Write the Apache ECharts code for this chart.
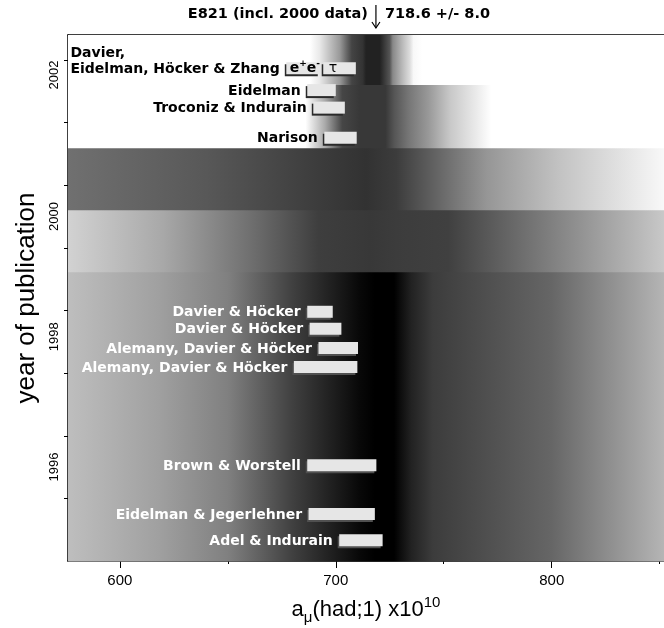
<!DOCTYPE html>
<html>
<head>
<meta charset="utf-8">
<script src="https://cdn.jsdelivr.net/npm/echarts@6/dist/echarts.min.js"></script>
<style>
  html, body { margin: 0; padding: 0; background: #fff; }
  #chart { width: 664px; height: 628px; }
</style>
</head>
<body>
<div id="chart"></div>
<script>
// axis ranges
const xMin = 576, xMax = 852
const yMin = 1994.5, yMax = 2002.9
const xMajor = [600, 700, 800]
const xMinor = [650, 750, 850]
const yTicks = [1995.5, 1996.5, 1997.5, 1998.5, 1999.5, 2000.5, 2001.5, 2002.5]
// year labels sit a little off the year centres in the original
const yLabels = [1996, 1998.08, 2000, 2002.26]

// E821 measurement
const e821 = [718.6, 8.0]

// predictions
const names = ['Eidelman, Höcker & Zhang', '', 'Eidelman', 'Troconiz & Indurain', 'Narison',
  'Davier & Höcker', 'Davier & Höcker', 'Alemany, Davier & Höcker', 'Alemany, Davier & Höcker',
  'Brown & Worstell', 'Eidelman & Jegerlehner', 'Adel & Indurain']
const tags = ['ee', 'tau', '', '', '', '', '', '', '', '', '', '']
const years = [2002.37, 2002.37, 2002.02, 2001.74, 2001.26, 1998.48, 1998.21, 1997.9, 1997.6, 1996.03, 1995.25, 1994.83]
const lows = [676.4, 693.5, 686.1, 688.9, 694.0, 686.1, 687.2, 691.3, 679.9, 686.1, 686.7, 700.9]
const highs = [692.6, 709.3, 700.0, 704.2, 709.7, 698.6, 702.6, 710.3, 710.0, 718.8, 718.1, 721.7]

// experimental average bands by epoch
const bandFrom = [1994.5, 1999.12, 2000.11, 2001.1, 2002.11]
const bandTo = [1999.12, 2000.11, 2001.1, 2002.11, 2002.9]
// grey level profile of each band: [a_mu, grey]
const shades = [
  [[576, 190], [618, 160], [650, 128], [680, 64], [711, 8], [718, 0], [727, 0], [735, 34], [745, 60], [800, 102], [852, 181]],
  [[576, 210], [620, 168], [660, 112], [692, 62], [716, 56], [728, 60], [752, 64], [800, 128], [852, 200]],
  [[576, 112], [640, 88], [692, 60], [714, 50], [728, 60], [770, 150], [804, 195], [852, 248]],
  [[576, 255], [686, 255], [695, 170], [703, 70], [711, 56], [723, 56], [727, 85], [734, 119], [743, 153], [753, 200], [767, 240], [772, 255], [852, 255]],
  [[576, 255], [688, 255], [692.6, 232], [697.2, 192], [701.9, 153], [705.1, 102], [707.4, 68], [712.5, 51], [714, 34],
   [720.4, 34], [725, 85], [726.4, 136], [731, 187], [734.3, 221], [736, 248], [740, 255], [852, 255]]
]

const labelFont = 'bold 14px "DejaVu Sans"'
const measureCtx = document.createElement('canvas').getContext('2d')
function textWidth(t, font) {
  measureCtx.font = font
  return measureCtx.measureText(t).width
}

function grey(g) {
  return 'rgb(' + g + ',' + g + ',' + g + ')'
}

function renderBand(params, api) {
  const i = api.value(2)
  const p0 = api.coord([xMin, api.value(1)])
  const p1 = api.coord([xMax, api.value(0)])
  const stops = shades[i].map(s => ({
    offset: Math.min(1, Math.max(0, (s[0] - xMin) / (xMax - xMin))),
    color: grey(s[1])
  }))
  return {
    type: 'rect',
    shape: { x: p0[0], y: p0[1], width: p1[0] - p0[0], height: p1[1] - p0[1] + 0.5 },
    style: { fill: new echarts.graphic.LinearGradient(0, 0, 1, 0, stops) }
  }
}

function renderBar(params, api) {
  const i = params.dataIndex
  const y = api.value(0)
  const a = api.coord([api.value(1), y])
  const b = api.coord([api.value(2), y])
  const h = 12
  const dark = y > 2000
  const kids = [
    { type: 'rect', shape: { x: a[0], y: a[1] - h / 2 + 2, width: b[0] - a[0] - 2, height: h }, style: { fill: dark ? '#2a2a2a' : '#505050' } },
    { type: 'rect', shape: { x: a[0] + 1.5, y: a[1] - h / 2, width: b[0] - a[0] - 1.5, height: h }, style: { fill: '#e6e6e6' } }
  ]
  if (names[i]) {
    kids.push({
      type: 'text', x: a[0] - 5, y: a[1] + 1,
      style: { text: names[i], font: labelFont, fill: dark ? '#000' : '#fff', align: 'right', verticalAlign: 'middle' }
    })
  }
  if (i === 0) {
    kids.push({
      type: 'text', x: a[0] - 5 - textWidth(names[i], labelFont), y: a[1] - 15,
      style: { text: 'Davier,', font: labelFont, fill: '#000', align: 'left', verticalAlign: 'middle' }
    })
  }
  if (tags[i] === 'ee') {
    kids.push({
      type: 'text', x: a[0] + 5, y: a[1],
      style: {
        text: '{b|e}{s|+}{b|e}{s|-}', align: 'left', verticalAlign: 'middle',
        rich: {
          b: { font: 'bold 14px "DejaVu Sans"', fill: '#000', lineHeight: 18, verticalAlign: 'middle' },
          s: { font: 'bold 9px "DejaVu Sans"', fill: '#000', lineHeight: 18, verticalAlign: 'top' }
        }
      }
    })
  }
  if (tags[i] === 'tau') {
    kids.push({
      type: 'text', x: a[0] + 7, y: a[1],
      style: { text: 'τ', font: '14px "DejaVu Sans"', fill: '#000', align: 'left', verticalAlign: 'middle' }
    })
  }
  return { type: 'group', children: kids }
}

function renderE821(params, api) {
  const v = api.value(0)
  const p = api.coord([v, yMax])
  const x = p[0]
  const font = 'bold 14.5px "DejaVu Sans"'
  return {
    type: 'group',
    children: [
      { type: 'line', shape: { x1: x, y1: p[1] - 30, x2: x, y2: p[1] - 7 }, style: { stroke: '#000', lineWidth: 1.2 } },
      { type: 'polyline', shape: { points: [[x - 4, p[1] - 13], [x, p[1] - 7], [x + 4, p[1] - 13]] }, style: { stroke: '#000', fill: null, lineWidth: 1.2 } },
      { type: 'text', x: x - 8, y: p[1] - 21, style: { text: 'E821 (incl. 2000 data)', font: font, fill: '#000', align: 'right', verticalAlign: 'middle' } },
      { type: 'text', x: x + 9, y: p[1] - 21, style: { text: v.toFixed(1) + ' +/- ' + api.value(1).toFixed(1), font: font, fill: '#000', align: 'left', verticalAlign: 'middle' } }
    ]
  }
}

const chart = echarts.init(document.getElementById('chart'))

const option = {
  animation: false,
  grid: { left: 68, right: 0, top: 35, bottom: 67, outerBoundsMode: 'none', containLabel: false },
  xAxis: [
    {
      type: 'value', min: xMin, max: xMax, position: 'bottom',
      axisLine: { lineStyle: { color: '#000', width: 1.5 } },
      axisTick: { customValues: xMajor, length: 7, lineStyle: { color: '#000' } },
      axisLabel: { customValues: xMajor, color: '#000', fontFamily: 'Liberation Sans', fontSize: 15, margin: 12 },
      splitLine: { show: false },
      name: '{t|a}{sub|μ}{t|(had;1) x10}{sup|10}',
      nameLocation: 'middle', nameGap: 34,
      nameTextStyle: {
        rich: {
          t: { fontFamily: 'Liberation Sans', fontSize: 22, color: '#000', lineHeight: 30, verticalAlign: 'middle' },
          sub: { fontFamily: 'Liberation Sans', fontSize: 15, color: '#000', lineHeight: 30, verticalAlign: 'bottom' },
          sup: { fontFamily: 'Liberation Sans', fontSize: 15, color: '#000', lineHeight: 30, verticalAlign: 'top' }
        }
      }
    },
    {
      type: 'value', min: xMin, max: xMax, position: 'bottom',
      axisLine: { show: false },
      axisTick: { customValues: xMinor, length: 3, lineStyle: { color: '#000' } },
      axisLabel: { show: false },
      splitLine: { show: false }
    },
    {
      type: 'value', min: xMin, max: xMax, position: 'top',
      axisLine: { lineStyle: { color: '#000', width: 1.5 } },
      axisTick: { show: false }, axisLabel: { show: false }, splitLine: { show: false }
    }
  ],
  yAxis: {
    type: 'value', min: yMin, max: yMax,
    axisLine: { lineStyle: { color: '#000', width: 1.5 } },
    axisTick: { customValues: yTicks, length: 4, lineStyle: { color: '#000' } },
    axisLabel: {
      customValues: yLabels, rotate: 90, color: '#000', fontFamily: 'Liberation Sans', fontSize: 13, margin: 7,
      formatter: v => String(Math.round(v))
    },
    splitLine: { show: false },
    name: 'year of publication',
    nameLocation: 'middle', nameRotate: 90, nameGap: 28,
    nameTextStyle: { fontFamily: 'Liberation Sans', fontSize: 26, color: '#000' }
  },
  series: [
    {
      type: 'custom', renderItem: renderBand, silent: true, z: 1,
      data: bandFrom.map((f, i) => [f, bandTo[i], i])
    },
    {
      type: 'custom', renderItem: renderBar, silent: true, z: 2,
      data: years.map((y, i) => [y, lows[i], highs[i]])
    },
    {
      type: 'custom', renderItem: renderE821, silent: true, clip: false, z: 3,
      data: [e821]
    }
  ]
}

chart.setOption(option)
</script>
</body>
</html>
